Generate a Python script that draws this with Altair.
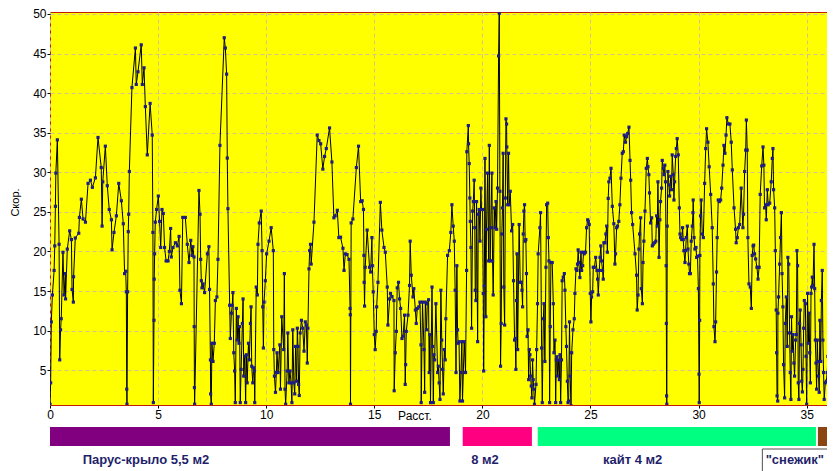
import altair as alt
import pandas as pd

# distance (x) and speed (y)
dist = [
 0.0,0.03,0.06,0.11,0.19,0.22,0.25,0.27,0.34,0.42,0.45,0.49,0.52,0.6,0.65,0.71,0.72,0.8,0.91,0.99,
 1.02,1.08,1.09,1.17,1.33,1.36,1.45,1.53,1.64,1.76,1.87,1.96,2.1,2.22,2.37,2.41,2.44,2.56,2.65,2.74,
 2.84,2.87,2.96,3.07,3.18,3.3,3.39,3.45,3.5,3.53,3.55,3.56,3.59,3.62,3.64,3.67,3.79,3.95,3.99,4.07,
 4.22,4.27,4.35,4.41,4.5,4.63,4.73,4.76,4.78,4.81,4.82,4.84,4.87,4.93,5.01,5.07,5.12,5.18,5.24,5.3,
 5.37,5.46,5.52,5.58,5.61,5.69,5.8,5.89,5.97,6.01,6.08,6.14,
 6.26,6.35,6.43,6.51,6.57,6.61,6.66,6.67,6.68,6.69,6.89,6.94,6.97,7.0,7.03,7.08,7.15,7.28,7.35,7.38,
 7.42,7.43,7.46,7.49,7.54,7.6,7.65,7.72,7.77,7.86,8.06,8.11,8.17,8.2,8.23,8.31,8.34,8.39,8.43,8.46,
 8.5,8.54,8.57,8.62,8.66,8.7,8.74,8.77,8.8,8.84,8.9,8.93,8.96,9.01,9.05,9.08,9.12,9.18,9.22,9.27,
 9.3,9.33,9.38,9.42,9.45,9.47,9.54,9.59,9.62,9.68,9.77,9.81,9.84,9.87,9.9,9.96,10.02,10.13,10.23,10.33,
 10.35,10.38,10.43,10.47,10.5,10.55,10.63,10.66,10.72,10.81,10.84,10.87,10.9,10.97,11.0,11.05,11.1,11.15,11.19,11.23,
 11.28,11.32,11.36,11.41,11.44,11.47,11.5,11.53,11.57,11.63,11.69,11.75,11.81,11.86,11.9,11.93,
 11.98,12.01,12.05,12.08,12.21,12.36,12.44,12.52,12.62,12.7,12.78,12.93,13.04,13.13,13.19,13.29,13.36,13.44,13.55,13.6,
 13.66,13.74,13.83,13.88,13.89,13.9,13.93,14.01,14.17,14.27,14.37,14.44,14.5,14.52,14.53,14.55,14.58,14.67,14.78,14.83,
 14.89,14.91,14.95,15.0,15.04,15.09,15.11,15.17,15.28,15.35,15.45,15.51,15.6,15.63,15.71,15.75,15.82,15.91,15.92,15.97,
 16.02,16.06,16.12,16.17,16.22,16.28,16.33,16.4,16.43,16.45,16.48,16.56,16.63,16.66,16.71,16.79,16.83,16.9,16.94,16.99,
 17.06,17.11,17.16,17.17,17.23,17.3,17.33,17.36,17.42,17.45,17.51,17.54,17.57,17.6,17.67,17.7,17.73,17.76,17.79,17.85,
 17.93,17.96,18.0,18.04,18.08,18.12,18.16,18.19,18.24,18.28,18.31,18.39,18.47,18.54,18.59,18.65,18.7,18.74,18.78,18.82,
 18.85,18.88,18.92,18.96,19.01,19.05,19.08,19.16,19.22,19.27,19.28,19.35,19.36,19.39,19.42,19.44,19.47,19.5,19.55,19.58,
 19.62,19.65,19.67,19.7,19.73,19.78,19.81,19.85,19.89,19.93,19.96,20.01,20.04,20.06,20.09,20.12,20.16,20.19,20.24,20.29,
 20.32,20.36,20.39,20.44,20.47,20.5,20.55,20.58,20.63,20.66,20.7,20.75,20.78,20.81,20.84,20.87,20.9,20.93,20.96,20.99,
 21.03,21.06,21.09,21.12,21.13,21.17,21.21,21.24,21.29,21.35,21.4,21.44,21.49,21.52,21.55,21.58,21.6,21.63,21.7,21.75,
 21.8,21.83,21.86,21.89,21.92,21.95,21.98,22.01,22.04,22.07,22.11,22.14,22.17,22.2,22.23,22.26,22.29,22.32,22.35,22.38,
 22.41,22.48,
 22.51,22.55,22.58,22.66,22.69,22.74,22.77,22.82,22.85,22.89,22.94,22.97,23.02,23.05,23.08,23.11,23.14,23.17,23.23,23.28,
 23.31,23.36,23.39,23.42,23.45,23.48,23.51,23.56,23.59,23.62,23.66,23.69,23.74,23.79,23.82,23.86,23.89,23.93,23.96,23.99,
 24.03,24.06,24.1,24.13,24.19,24.25,24.28,24.33,24.37,24.4,24.43,24.46,24.51,24.56,24.59,24.64,24.68,24.71,24.77,24.82,
 24.87,24.9,24.94,24.99,25.02,25.05,25.1,25.13,25.18,25.24,25.3,25.33,25.36,25.41,25.44,25.48,25.51,25.56,25.59,25.62,
 25.67,25.71,25.75,25.78,25.82,25.85,25.9,25.95,26.01,26.08,26.13,26.16,26.21,26.25,26.31,26.36,26.41,26.47,26.52,26.56,
 26.62,26.67,26.72,26.78,26.83,26.86,26.9,26.95,
 27.06,27.13,27.16,27.2,27.24,27.27,27.32,27.35,27.4,27.43,27.47,27.52,27.58,27.63,27.66,27.7,27.73,27.78,27.83,27.86,
 27.9,27.97,28.02,28.06,28.09,28.12,28.17,28.21,28.24,28.29,28.32,28.37,28.4,28.44,28.47,28.5,28.51,28.52,28.53,28.55,
 28.58,28.63,28.66,28.71,28.75,28.78,28.83,28.86,28.89,28.94,28.97,29.01,29.06,29.11,29.14,29.17,29.22,29.26,29.29,29.32,
 29.37,29.4,29.43,29.48,29.51,29.55,29.58,29.62,29.66,29.71,29.74,29.75,29.79,29.83,29.88,29.91,29.95,29.99,30.02,30.03,
 30.05,30.06,30.09,30.12,30.17,30.22,30.28,30.33,30.37,30.43,30.49,30.56,30.63,30.68,30.71,30.76,30.79,30.83,30.86,30.91,
 30.96,31.02,31.07,31.13,31.17,31.22,31.27,31.31,31.38,31.45,31.51,31.56,
 31.64,31.71,31.74,31.79,31.84,31.9,31.97,32.05,32.08,32.13,32.18,32.21,32.25,32.28,32.33,32.39,32.44,32.48,32.52,32.55,
 32.59,32.64,32.7,32.75,32.8,32.85,32.92,32.98,33.02,33.05,33.1,33.13,33.18,33.22,33.29,33.36,33.41,33.44,33.47,33.52,
 33.55,33.59,33.61,33.63,33.66,33.67,33.7,33.75,33.79,33.83,33.86,33.9,33.93,33.98,34.01,34.06,34.1,34.13,34.17,34.21,
 34.24,34.27,34.3,34.33,34.37,34.41,34.44,34.49,34.52,34.55,34.58,34.61,34.64,34.67,34.7,34.74,34.77,34.8,34.83,34.86,
 34.89,34.94,34.97,35.0,35.04,35.08,35.11,35.14,35.17,35.2,35.23,35.26,35.29,35.34,35.37,35.4,35.43,35.46,35.49,35.52,
 35.55,35.58,35.61,35.65,35.68,35.72,35.75,35.78,35.81,35.86,35.91,35.95,35.98,36.02,
]
speed = [
 0.7,3.4,11.1,14.5,17.6,20.7,25.7,29.9,34.1,20.9,6.3,10.1,11.5,19.9,14.5,17.2,14.0,20.3,22.6,21.5,
 15.2,13.6,16.8,21.7,22.3,24.3,26.6,24.1,23.7,28.6,29.0,28.1,29.3,34.4,30.6,23.2,28.8,33.3,28.3,25.3,
 24.0,20.2,22.4,24.5,28.6,26.4,23.5,17.2,17.5,14.9,2.6,0.7,14.9,22.5,24.7,30.1,40.7,45.7,41.1,42.7,
 46.1,41.1,43.2,38.3,32.2,38.7,34.7,22.4,0.9,11.3,16.5,19.7,23.7,25.3,27.0,23.8,20.5,25.3,24.8,20.5,
 18.8,18.8,20.0,22.9,19.3,20.5,21.1,20.7,21.9,15.1,13.4,24.3,
 24.3,20.9,18.6,21.4,19.5,20.6,19.3,10.5,2.8,0.7,27.7,24.7,19.0,16.3,15.4,15.9,14.8,19.7,20.6,15.2,
 6.3,2.0,0.7,8.4,6.1,8.4,13.8,14.25,19.0,33.4,47.0,45.7,42.4,31.8,25.4,13.2,9.0,12.2,13.2,14.8,
 7.2,4.9,0.9,12.8,8.8,11.75,8.4,10.5,0.9,5.1,10.9,14.0,4.25,6.75,0.9,6.95,3.4,8.4,6.3,10.9,
 13.0,5.5,3.4,5.3,4.9,0.9,15.5,14.5,20.9,23.6,25.1,20.1,13.0,7.8,13.6,16.3,19.7,21.3,23.0,20.1,
 7.6,4.25,2.2,4.7,7.2,4.7,8.2,2.6,11.75,7.6,17.2,2.6,0.7,4.9,9.7,3.4,4.9,3.4,0.9,10.1,
 3.4,2.0,8.0,3.6,10.3,8.0,3.2,1.8,9.7,11.3,10.3,7.4,11.1,10.7,5.9,10.3,
 17.8,20.1,20.9,18.4,23.7,34.7,34.0,33.6,30.4,32.0,33.0,35.6,31.3,24.25,24.5,25.2,21.75,21.8,20.4,17.6,
 19.7,19.6,19.0,12.8,12.0,0.7,23.6,24.1,30.6,33.3,26.3,26.4,25.3,19.5,16.1,13.1,18.0,22.7,18.0,17.4,
 21.75,18.2,14.9,9.5,7.6,9.9,13.0,16.1,26.2,22.7,20.5,19.9,15.5,10.7,14.0,14.7,14.3,13.8,2.4,7.2,
 9.9,15.4,16.1,14.0,12.8,9.0,9.3,11.95,3.2,5.7,9.9,11.95,15.7,21.3,17.0,14.25,15.3,12.6,10.9,12.8,
 13.0,13.6,8.2,0.9,13.6,7.6,2.2,13.6,10.1,13.4,13.9,4.7,9.5,0.9,15.5,8.0,0.9,6.95,6.3,13.4,
 4.7,5.5,3.4,1.3,15.1,8.8,5.1,2.0,7.6,6.3,11.5,19.5,20.1,22.4,25.9,23.2,21.3,15.1,4.7,18.2,
 10.1,8.4,8.6,1.1,4.7,8.6,1.1,8.6,4.7,17.6,32.6,35.9,33.6,31.1,26.75,23.8,20.5,10.3,25.1,26.3,
 29.0,23.0,15.1,13.8,26.3,8.6,24.7,25.3,21.3,28.0,25.3,25.3,14.7,4.9,15.7,31.75,11.75,22.8,29.9,18.8,
 33.4,18.8,23.0,29.9,18.8,14.5,25.5,23.0,26.3,22.8,28.0,44.7,50.1,27.6,5.5,10.9,22.2,25.5,32.4,15.5,
 10.7,26.75,36.75,36.1,33.2,25.9,32.4,25.9,27.6,22.6,23.4,16.3,8.8,9.0,5.1,13.8,19.7,7.6,23.4,16.1,
 16.1,15.1,13.0,22.2,25.1,25.9,21.3,21.5,17.2,9.25,10.1,3.8,7.6,6.95,4.25,3.0,1.5,6.3,3.8,2.6,
 0.7,3.2,
 7.6,13.4,19.7,23.0,24.9,7.8,0.9,11.5,13.4,6.1,18.0,25.9,26.1,21.75,18.8,0.9,10.5,18.6,18.6,13.4,
 7.2,8.8,0.9,6.3,6.7,4.25,6.3,3.8,6.95,0.9,6.3,16.3,16.75,17.2,15.1,10.5,8.0,3.6,0.9,1.1,
 11.1,4.25,0.5,7.2,10.1,11.5,14.7,17.8,17.6,18.4,20.2,18.6,16.7,19.9,17.6,18.2,19.9,19.7,19.9,23.0,
 24.0,23.8,23.4,14.7,11.1,14.25,14.9,18.0,18.0,19.25,17.6,16.5,14.5,17.6,19.25,20.7,18.8,17.6,16.5,21.1,
 21.1,22.2,23.2,19.9,26.7,28.8,29.25,30.5,25.7,23.5,18.4,19.7,23.0,23.2,23.8,25.9,29.25,32.4,32.6,34.7,
 33.8,34.5,34.9,35.7,31.5,29.0,24.9,23.4,
 19.7,17.0,12.6,14.5,20.3,22.2,24.25,15.3,13.4,18.6,21.3,25.1,30.5,31.75,30.7,29.7,27.4,23.6,24.25,20.7,
 20.9,21.1,21.3,24.5,23.2,28.8,19.25,24.0,26.3,28.0,31.5,30.5,29.7,30.9,28.8,18.2,10.9,1.75,0.7,23.2,
 30.1,28.4,27.0,29.5,27.8,32.2,29.7,26.5,28.8,32.0,33.0,34.25,32.2,25.5,22.2,21.75,21.5,23.0,21.5,20.1,
 18.6,20.1,21.75,23.2,20.3,18.4,17.2,17.2,21.3,23.2,24.9,26.5,21.75,20.3,20.5,19.25,19.4,15.3,4.5,0.9,
 11.3,19.5,24.5,26.5,22.2,21.75,28.6,33.0,35.5,33.8,30.7,27.2,23.0,15.9,10.5,8.6,11.1,17.4,21.75,26.5,
 26.3,26.5,28.0,30.9,33.4,32.4,34.7,36.9,36.1,36.1,33.8,30.3,
 25.5,22.8,21.1,21.75,23.0,23.4,28.0,23.0,24.7,30.1,32.8,36.6,32.8,21.75,15.9,15.5,12.8,19.5,20.7,20.8,
 19.7,19.05,18.0,16.5,18.0,27.2,30.8,33.2,30.9,25.5,25.9,24.0,27.8,25.9,26.1,28.8,31.75,33.0,27.8,25.5,
 20.1,12.6,7.2,1.75,1.1,12.2,14.25,18.4,21.75,24.9,17.2,13.0,5.7,1.5,10.9,14.25,8.0,19.25,18.4,9.7,
 4.7,1.3,11.75,7.4,9.5,5.9,4.25,8.8,9.5,20.1,18.2,3.4,1.3,10.9,12.6,8.2,3.6,2.25,5.1,10.3,
 13.8,13.4,6.75,0.7,14.7,8.4,12.2,7.2,3.4,14.7,15.5,16.75,15.7,20.9,15.3,8.8,5.9,2.6,8.8,6.1,
 4.25,2.2,11.3,6.1,13.8,17.6,8.8,4.7,1.3,3.4,3.6,4.7,6.75,8.0,
]

x_ticks = [0, 5, 10, 15, 20, 25, 30, 35]
y_ticks = [5, 10, 15, 20, 25, 30, 35, 40, 45, 50]

# sail segments along the distance axis
seg_name = ["Парус-крыло 5,5 м2", "8 м2", "кайт 4 м2", "\"снежик\""]
seg_start = [0.0, 19.09, 22.56, 35.52]
seg_end = [18.5, 22.29, 35.43, 36.3]
seg_color = ["#800080", "#ff0080", "#00ff80", "#8b4513"]
label_x = [4.44, 20.12, 26.95, 34.45]
box_start = [32.95]
box_end = [36.3]
axis_title_x = [16.88]

n = min(len(dist), len(speed))
df = pd.DataFrame({"d": dist[:n], "v": speed[:n], "i": list(range(n))})
seg_df = pd.DataFrame({"name": seg_name, "s": seg_start, "e": seg_end})
lab_df = pd.DataFrame({"name": seg_name, "x": label_x})
box_df = pd.DataFrame({"s": box_start, "e": box_end})
ttl_df = pd.DataFrame({"x": axis_title_x, "t": ["Расст."]})

FONT = "Liberation Sans"
GRID = "#d2c48c"

xscale = alt.Scale(domain=[0, 35.94], nice=False, zero=False)
yscale = alt.Scale(domain=[0.6, 50.25], nice=False, zero=False)

xaxis = alt.Axis(values=x_ticks, grid=True, gridColor=GRID, gridDash=[4, 3], gridWidth=1,
                 domain=False, tickSize=3, tickColor="black", labelPadding=1,
                 labelFontSize=12, labelFont=FONT, labelColor="black", title=None,
                 labelFlush=False, format="d")
yaxis = alt.Axis(values=y_ticks, grid=True, gridColor=GRID, gridDash=[4, 3], gridWidth=1,
                 domain=False, tickSize=3, tickColor="black", labelPadding=1,
                 labelFontSize=12, labelFont=FONT, labelColor="black",
                 title="Скор.", titleFontSize=11, titleFont=FONT, titleFontWeight="normal",
                 titleColor="black", titleX=-35, titleY=190, titleAngle=270,
                 titleAlign="center", titleBaseline="middle", format="d")

base = alt.Chart(df)
line = base.mark_line(color="black", strokeWidth=1, clip=True).encode(
    x=alt.X("d:Q", scale=xscale, axis=xaxis),
    y=alt.Y("v:Q", scale=yscale, axis=yaxis),
    order="i:Q",
)
pts = base.mark_point(shape="square", filled=True, size=10, color="#1c1c86", opacity=1, clip=True).encode(
    x=alt.X("d:Q", scale=xscale),
    y=alt.Y("v:Q", scale=yscale),
)

bars = alt.Chart(seg_df).mark_rect(clip=False).encode(
    x=alt.X("s:Q", scale=xscale),
    x2="e:Q",
    y=alt.value(415),
    y2=alt.value(434),
    color=alt.Color("name:N", scale=alt.Scale(domain=seg_name, range=seg_color), legend=None),
)

box = alt.Chart(box_df).mark_rect(clip=False, fill="white", stroke="#505050", strokeWidth=1).encode(
    x=alt.X("s:Q", scale=xscale),
    x2="e:Q",
    y=alt.value(437),
    y2=alt.value(472),
)

labels = alt.Chart(lab_df).mark_text(clip=False, font=FONT, fontSize=13, fontWeight="bold",
                                     color="#1f1f6b", baseline="middle", align="center").encode(
    x=alt.X("x:Q", scale=xscale),
    y=alt.value(448),
    text="name:N",
)

xtitle = alt.Chart(ttl_df).mark_text(clip=False, font=FONT, fontSize=12, color="black",
                                     baseline="middle", align="center").encode(
    x=alt.X("x:Q", scale=xscale),
    y=alt.value(404),
    text="t:N",
)

chart = alt.layer(line, pts, bars, box, labels, xtitle).properties(
    width=777, height=393,
    autosize=alt.AutoSizeParams(type="none"),
    padding={"left": 42, "top": 4, "right": 0, "bottom": 66},
    background="white",
).configure_view(
    fill="#ffff00", stroke="#c41a00", strokeWidth=1,
)

chart.save("out.html", embed_options={"renderer": "svg", "actions": False})
